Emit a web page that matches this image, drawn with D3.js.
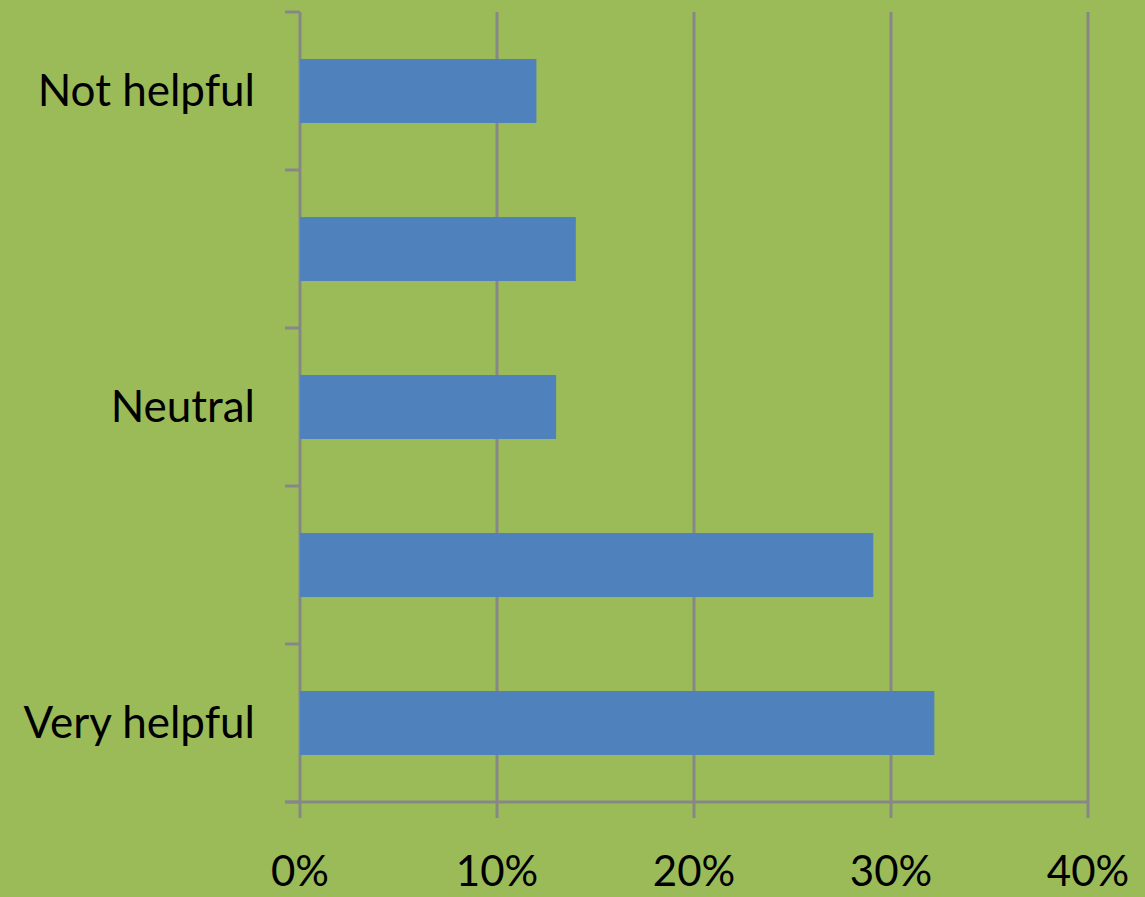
<!DOCTYPE html>
<html><head><meta charset="utf-8">
<script src="https://cdn.jsdelivr.net/npm/d3@7"></script>
<style>
html,body{margin:0;padding:0;background:#9BBB59;overflow:hidden}
svg{display:block}
</style></head>
<body>
<svg id="c" width="1145" height="897"></svg>
<script>
const categories = ["c1","c2","c3","c4","c5"];
const categoryLabels = ["Not helpful","","Neutral","","Very helpful"];
const values = [0.12, 0.14, 0.13, 0.291, 0.322];
const xTicks = [0, 0.1, 0.2, 0.3, 0.4];

const W = 1145, H = 897;
const m = {left: 300, right: 57, top: 12, bottom: 95};
const svg = d3.select("#c");
svg.append("rect").attr("width", W).attr("height", H).attr("fill", "#9BBB59");

const x = d3.scaleLinear().domain([0, 0.4]).range([m.left, W - m.right]);
const y = d3.scaleBand().domain(categories).range([m.top, H - m.bottom]).paddingInner(0.595).paddingOuter(0.2975);

const grid = "#878787";
const font = "Lato, 'Open Sans', sans-serif";

// vertical gridlines
svg.append("g").selectAll("line").data(xTicks).join("line")
  .attr("x1", d => x(d)).attr("x2", d => x(d))
  .attr("y1", m.top).attr("y2", H - m.bottom + 16)
  .attr("stroke", grid).attr("stroke-width", 3);

// bottom axis line
svg.append("line").attr("x1", m.left - 15).attr("x2", x(0.4))
  .attr("y1", H - m.bottom).attr("y2", H - m.bottom)
  .attr("stroke", grid).attr("stroke-width", 3);

// category boundary ticks
const bounds = categories.map(c => y(c) - y.step() * y.paddingInner() / 2).concat([H - m.bottom]);
svg.append("g").selectAll("line").data(bounds).join("line")
  .attr("x1", m.left - 15).attr("x2", m.left)
  .attr("y1", d => d).attr("y2", d => d)
  .attr("stroke", grid).attr("stroke-width", 3);

// bars
svg.append("g").selectAll("rect").data(values).join("rect")
  .attr("x", x(0)).attr("y", (d, i) => y(categories[i]))
  .attr("width", d => x(d) - x(0)).attr("height", y.bandwidth())
  .attr("fill", "#4F81BD");

// y labels
svg.append("g").selectAll("text").data(categoryLabels).join("text")
  .attr("x", 255).attr("y", (d, i) => y(categories[i]) + y.bandwidth() / 2 + 15)
  .attr("text-anchor", "end")
  .attr("font-family", font).attr("font-size", 44).attr("fill", "#000")
  .text(d => d);

// x labels
svg.append("g").selectAll("text").data(xTicks).join("text")
  .attr("x", d => x(d)).attr("y", 886)
  .attr("text-anchor", "middle")
  .attr("font-family", font).attr("font-size", 42).attr("fill", "#000")
  .text(d => d3.format(".0%")(d));
</script>
</body></html>
